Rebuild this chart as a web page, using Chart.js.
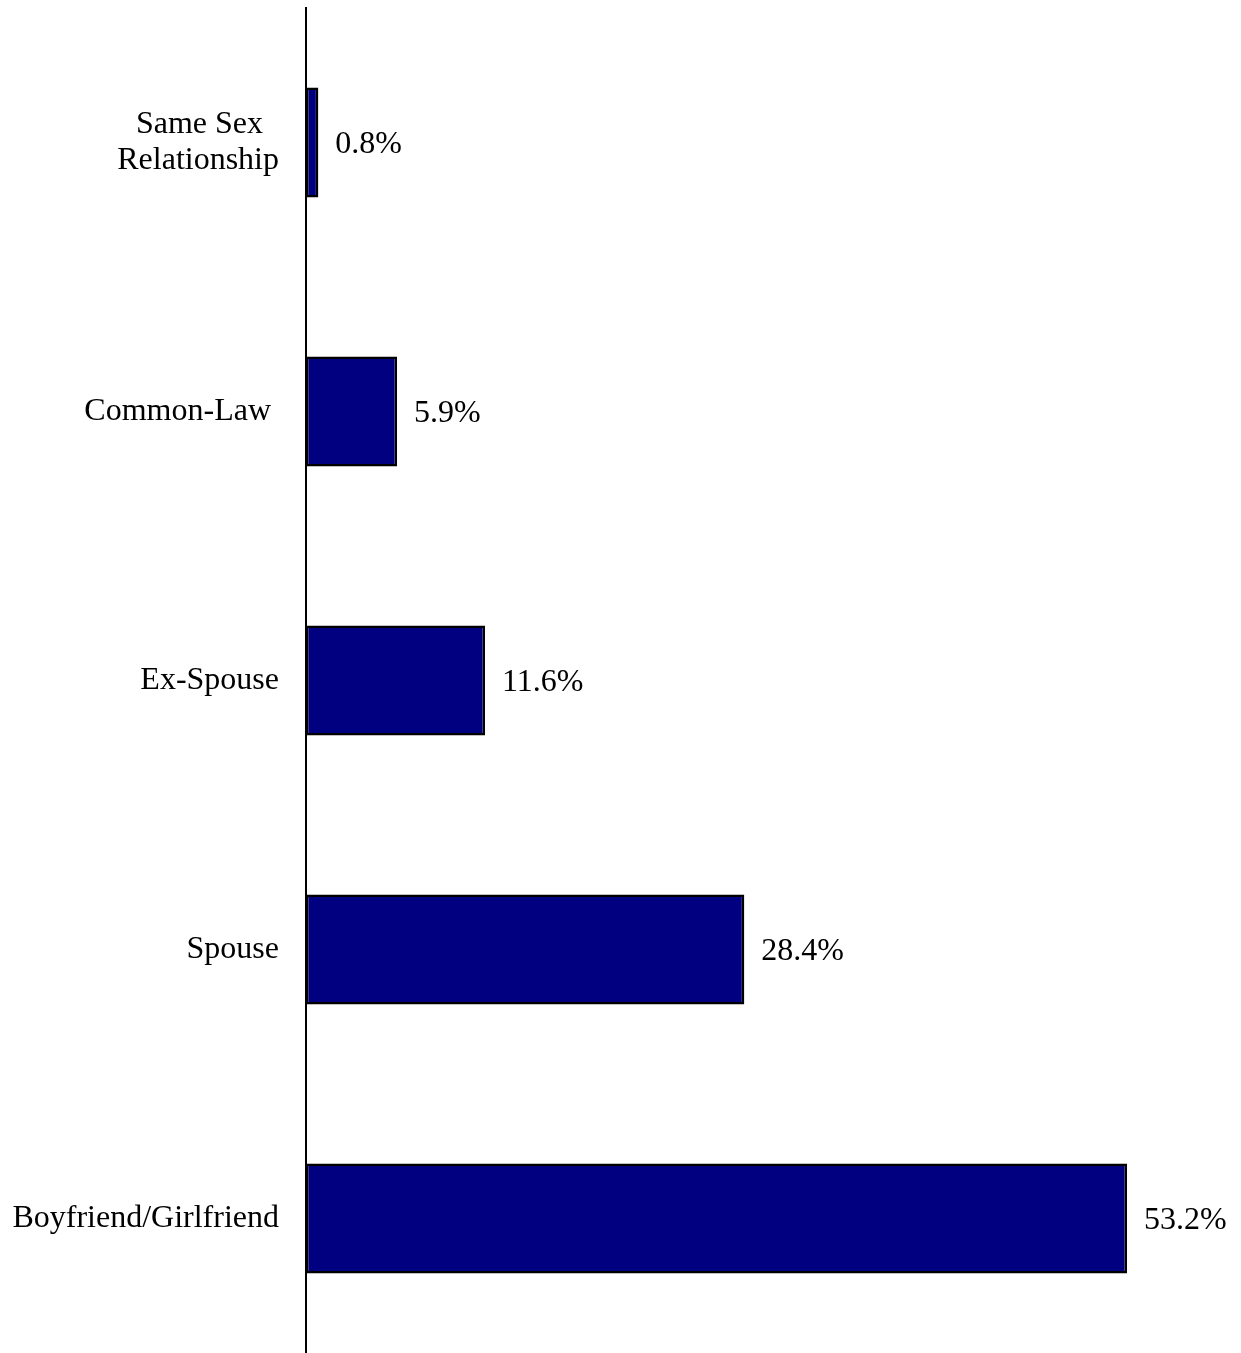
<!DOCTYPE html>
<html>
<head>
<meta charset="utf-8">
<script src="https://cdn.jsdelivr.net/npm/chart.js@4/dist/chart.umd.min.js"></script>
<style>
  html, body { margin: 0; padding: 0; background: #fff; overflow: hidden; }
  #wrap { width: 1241px; height: 1353px; position: relative; }
</style>
</head>
<body>
<div id="wrap"><canvas id="myChart"></canvas></div>
<script>
// data
const categories = [['Same Sex  ', 'Relationship'], 'Common-Law ', 'Ex-Spouse', 'Spouse', 'Boyfriend/Girlfriend'];
const percentValues = [0.8, 5.9, 11.6, 28.4, 53.2];
const axisMax = 60;

const serif = '"Liberation Serif", "Times New Roman", serif';

// value labels at bar ends
const valueLabels = {
    id: 'valueLabels',
    afterDatasetsDraw(chart) {
        const ctx = chart.ctx;
        const meta = chart.getDatasetMeta(0);
        ctx.save();
        ctx.font = '32px ' + serif;
        ctx.fillStyle = '#000';
        ctx.textAlign = 'left';
        ctx.textBaseline = 'middle';
        meta.data.forEach((bar, i) => {
            ctx.fillText(percentValues[i].toFixed(1) + '%', bar.x + 17, bar.y + 2);
        });
        ctx.restore();
    }
};

new Chart(document.getElementById('myChart'), {
    type: 'bar',
    data: {
        labels: categories,
        datasets: [{
            data: percentValues,
            backgroundColor: '#000080',
            borderColor: '#000',
            borderWidth: 2.5,
            borderSkipped: false,
            barPercentage: 0.408,
            categoryPercentage: 1
        }]
    },
    options: {
        indexAxis: 'y',
        responsive: true,
        maintainAspectRatio: false,
        animation: false,
        devicePixelRatio: 1,
        layout: { padding: { top: 8, right: 9, bottom: 0, left: 0 } },
        plugins: {
            legend: { display: false },
            tooltip: { enabled: false }
        },
        scales: {
            x: { display: false, min: 0, max: axisMax },
            y: {
                grid: { display: false, drawTicks: false },
                border: { display: true, color: '#000', width: 2 },
                ticks: {
                    color: '#000',
                    padding: 27,
                    font: { family: serif, size: 32, lineHeight: 1.15 }
                },
                afterFit(scale) {
                    scale.width = 306;
                    scale.paddingTop = 0;
                    scale.paddingBottom = 0;
                }
            }
        }
    },
    plugins: [valueLabels]
});
</script>
</body>
</html>
